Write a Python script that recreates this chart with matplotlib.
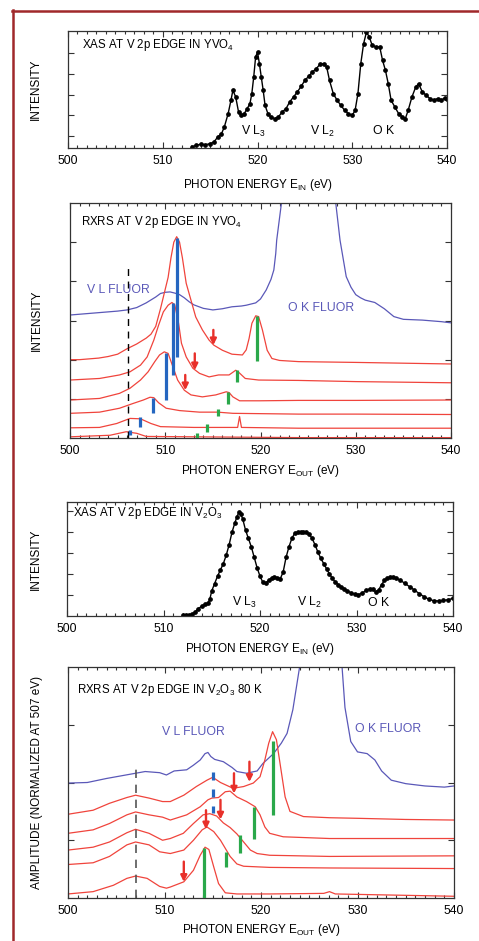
import matplotlib
matplotlib.use("Agg")
import matplotlib.pyplot as plt
from matplotlib.ticker import MultipleLocator
from matplotlib.lines import Line2D

plt.rcParams["font.family"] = ["Liberation Sans", "DejaVu Sans"]
plt.rcParams["mathtext.fontset"] = "custom"
plt.rcParams["mathtext.rm"] = "Liberation Sans"
plt.rcParams["mathtext.it"] = "Liberation Sans:italic"
plt.rcParams["mathtext.default"] = "rm"

# ---------------- data ----------------
# XAS YVO4 (incident energy, intensity)
yvo4_xas_e = [513.1, 513.5, 514.0, 514.5, 515.0, 515.4, 515.8, 516.2, 516.5, 516.9,
              517.2, 517.4, 517.7, 518.0, 518.3, 518.6, 518.9, 519.2, 519.4, 519.6,
              519.8, 520.0, 520.2, 520.4, 520.6, 520.8, 521.1, 521.4, 521.8, 522.2,
              522.6, 523.0, 523.4, 523.8, 524.2, 524.6, 525.0, 525.4, 525.8, 526.2,
              526.6, 527.0, 527.3, 527.6, 528.0, 528.4, 528.8, 529.2, 529.6, 530.0,
              530.3, 530.6, 530.9, 531.2, 531.5, 531.8, 532.1, 532.5, 532.9, 533.2,
              533.5, 533.8, 534.1, 534.5, 534.9, 535.3, 535.6, 535.9, 536.3, 536.7,
              537.0, 537.4, 537.8, 538.2, 538.6, 539.0, 539.4, 539.8, 540.0]
yvo4_xas_i = [0.47, 0.55, 0.60, 0.58, 0.63, 0.71, 0.95, 1.11, 1.44, 2.08,
              2.73, 3.21, 2.89, 2.16, 2.00, 2.08, 2.32, 2.56, 3.05, 3.85,
              4.82, 5.06, 4.50, 3.85, 3.21, 2.48, 2.08, 1.92, 1.84, 1.92,
              2.16, 2.32, 2.65, 2.89, 3.13, 3.40, 3.69, 3.89, 4.10, 4.26,
              4.47, 4.50, 4.34, 3.69, 3.05, 2.73, 2.48, 2.24, 2.08, 2.00,
              2.24, 3.05, 4.50, 5.47, 6.03, 5.79, 5.39, 5.31, 5.31, 4.66,
              4.18, 3.53, 2.73, 2.40, 2.08, 1.92, 1.84, 2.24, 2.89, 3.37,
              3.53, 3.13, 2.97, 2.81, 2.73, 2.81, 2.73, 2.85, 2.81]

# RXRS YVO4: fluorescence (blue) and red spectra, top to bottom
yvo4_fluor_e = [500, 501, 502, 503, 504, 505, 506, 507, 508, 509, 509.5, 510, 510.5,
                511, 511.5, 512, 512.5, 513, 514, 515, 516, 517, 518, 518.5, 519.5,
                520, 520.6, 521.1, 521.4, 521.6, 521.7, 522.2, 523, 525, 527, 527.9,
                528.35, 529, 529.5, 530, 530.5, 531, 532, 533, 533.5, 534, 535, 536,
                537, 538, 539, 540]
yvo4_fluor_i = [3.14, 3.16, 3.18, 3.20, 3.22, 3.24, 3.27, 3.33, 3.45, 3.60, 3.69, 3.72,
                3.73, 3.70, 3.66, 3.58, 3.48, 3.40, 3.31, 3.27, 3.30, 3.35, 3.37, 3.39,
                3.45, 3.55, 3.78, 4.05, 4.29, 4.71, 5.05, 6.0, 7.5, 8.5, 7.5, 6.0,
                5.05, 4.12, 3.85, 3.66, 3.58, 3.52, 3.46, 3.30, 3.20, 3.10, 3.03, 3.02,
                3.01, 2.99, 2.97, 2.94]

yvo4_rxrs_e = [
    [500, 501, 502, 503, 504, 505, 506, 507, 508, 508.5, 509, 509.5, 510, 510.3, 510.6,
     510.9, 511.2, 511.5, 511.8, 512.2, 512.7, 513.2, 513.9, 514.6, 515.1, 516, 517,
     518.1, 518.5, 518.8, 519.1, 519.5, 519.8, 520.2, 520.7, 521.2, 522, 524, 530, 535, 540],
    [500, 503.1, 505.2, 506.3, 507.4, 508.1, 508.8, 509.3, 509.8, 510.3, 510.7, 511.0,
     511.4, 511.7, 512.2, 512.9, 513.6, 514.6, 515.6, 516.7, 517.4, 517.7, 518.4, 519.8,
     524, 530, 540],
    [500, 503.1, 505.2, 506.3, 507.4, 508.2, 508.9, 509.4, 509.9, 510.3, 510.8, 511.3,
     512.0, 512.7, 513.9, 515.3, 516.4, 516.7, 517.1, 517.8, 519.9, 524, 530, 540],
    [500, 503.1, 505.2, 506.6, 507.7, 508.4, 508.8, 509.3, 510.1, 511.5, 513.6, 515.5,
     517.1, 524, 530, 540],
    [500, 503.1, 504.9, 506.3, 507.4, 508.5, 509.5, 513.0, 517.6, 517.8, 518.0, 524, 540],
    [500, 504.2, 505.9, 507.0, 508.0, 524, 540],
]
yvo4_rxrs_i = [
    [2.00, 2.00, 2.02, 2.04, 2.08, 2.14, 2.28, 2.40, 2.55, 2.65, 2.85, 3.30, 3.80, 4.10, 4.60,
     5.00, 5.14, 5.00, 4.60, 3.95, 3.52, 3.09, 2.76, 2.50, 2.37, 2.24, 2.14,
     2.12, 2.25, 2.54, 2.93, 3.12, 3.10, 2.76, 2.24, 2.03, 1.98, 1.95, 1.93, 1.91, 1.89],
    [1.48, 1.52, 1.61, 1.69, 1.86, 2.07, 2.50, 2.88, 3.22, 3.39, 3.46, 3.40,
     2.93, 2.42, 2.07, 1.78, 1.65, 1.56, 1.61, 1.61, 1.73, 1.68, 1.52, 1.48,
     1.47, 1.44, 1.41],
    [0.97, 1.01, 1.14, 1.27, 1.48, 1.69, 1.95, 2.12, 2.20, 2.16, 1.82, 1.48,
     1.22, 1.10, 1.05, 1.10, 1.18, 1.16, 1.05, 0.95, 0.95, 0.96, 0.96, 0.97],
    [0.63, 0.66, 0.76, 0.88, 0.97, 1.04, 1.03, 0.90, 0.76, 0.70, 0.66, 0.66,
     0.63, 0.61, 0.61, 0.60],
    [0.26, 0.27, 0.37, 0.50, 0.49, 0.37, 0.29, 0.27, 0.27, 0.55, 0.27, 0.25, 0.25],
    [0.03, 0.07, 0.16, 0.12, 0.04, 0.01, 0.01],
]

yvo4_blue_e = [511.27, 510.78, 510.08, 508.68, 507.35, 506.3]
yvo4_blue_top = [5.10, 3.44, 2.16, 1.01, 0.54, 0.20]
yvo4_blue_bot = [2.07, 1.61, 0.97, 0.63, 0.29, 0.08]
yvo4_green_e = [519.6, 517.5, 516.6, 515.57, 514.35, 513.3]
yvo4_green_top = [3.11, 1.73, 1.18, 0.73, 0.36, 0.12]
yvo4_green_bot = [1.97, 1.44, 0.88, 0.56, 0.16, -0.05]
yvo4_arrow_e = [515.05, 513.1, 512.1]
yvo4_arrow_top = [2.76, 2.16, 1.61]
yvo4_arrow_tip = [2.37, 1.73, 1.22]
yvo4_dash_e = 506.13
yvo4_dash_top = 4.34

# XAS V2O3
v2o3_xas_e = [512.0, 512.3, 512.6, 513.0, 513.3, 513.6, 514.0, 514.3, 514.6, 514.8,
              515.0, 515.3, 515.6, 515.9, 516.2, 516.5, 516.8, 517.1, 517.4, 517.6,
              517.8, 518.0, 518.2, 518.5, 518.8, 519.1, 519.4, 519.7, 520.0, 520.3,
              520.6, 520.9, 521.2, 521.5, 521.8, 522.1, 522.4, 522.7, 523.0, 523.3,
              523.6, 523.9, 524.2, 524.5, 524.8, 525.1, 525.4, 525.7, 526.0, 526.3,
              526.6, 526.9, 527.2, 527.5, 527.8, 528.1, 528.4, 528.7, 529.0, 529.4,
              529.8, 530.2, 530.6, 531.0, 531.4, 531.7, 532.0, 532.3, 532.6, 532.9,
              533.2, 533.5, 533.8, 534.1, 534.5, 535.0, 535.5, 536.0, 536.5, 537.0,
              537.5, 538.0, 538.5, 539.0, 539.5, 540.0]
v2o3_xas_i = [0.05, 0.03, 0.05, 0.10, 0.20, 0.35, 0.48, 0.55, 0.60, 0.80,
              1.20, 1.55, 1.90, 2.20, 2.50, 2.90, 3.40, 4.00, 4.45, 4.72,
              4.94, 4.85, 4.65, 4.10, 3.70, 3.30, 2.80, 2.30, 1.90, 1.60,
              1.58, 1.70, 1.82, 1.87, 1.82, 1.78, 2.10, 2.80, 3.30, 3.70,
              3.95, 4.00, 4.00, 4.00, 4.00, 3.90, 3.70, 3.40, 3.05, 2.75,
              2.50, 2.25, 2.00, 1.80, 1.62, 1.50, 1.38, 1.30, 1.20, 1.12,
              1.05, 1.02, 1.10, 1.22, 1.30, 1.27, 1.15, 1.25, 1.50, 1.70,
              1.80, 1.85, 1.85, 1.80, 1.72, 1.56, 1.40, 1.24, 1.07, 0.92,
              0.80, 0.73, 0.72, 0.74, 0.78, 0.84]

# RXRS V2O3 80 K
v2o3_fluor_e = [500, 502, 504, 506, 508, 509.5, 510.2, 511, 512.3, 513, 513.7, 514.2,
                514.5, 514.8, 515.2, 516.1, 517, 517.5, 518.5, 519.6, 520.2, 521.3,
                522.1, 522.7, 523.3, 524.0, 525, 526.5, 527.5, 528.4, 528.7, 529.3,
                530, 531, 531.8, 532.5, 533.5, 535, 537, 539, 540]
v2o3_fluor_i = [1.99, 2.00, 2.07, 2.13, 2.19, 2.17, 2.13, 2.20, 2.22, 2.30, 2.39, 2.50,
                2.52, 2.45, 2.40, 2.36, 2.26, 2.19, 2.16, 2.20, 2.33, 2.50,
                2.68, 2.85, 3.26, 4.00, 5.50, 6.00, 5.00, 4.00, 3.30, 2.71,
                2.53, 2.50, 2.39, 2.20, 2.04, 1.98, 1.94, 1.92, 1.94]

v2o3_rxrs_e = [
    [500, 502.6, 504.3, 506.1, 507, 508.4, 509.8, 510.6, 512, 513.3, 514.4, 515, 515.8,
     517.1, 518.2, 519.2, 519.9, 520.4, 520.8, 521.2, 521.6, 522.0, 522.5, 523, 524.4,
     527.1, 530, 535, 540],
    [500, 502.6, 504.3, 506.1, 507, 508.4, 509.8, 510.6, 512.3, 513.7, 514.5, 514.9,
     515.6, 516.3, 516.8, 517.5, 518.5, 519.4, 519.9, 520.4, 520.9, 522.3, 527.1, 540],
    [500, 502.6, 504.3, 506.1, 507, 508.4, 509.8, 510.6, 511.95, 513, 514, 514.7, 515.4,
     516.1, 516.8, 517.5, 518.2, 518.9, 519.6, 520.9, 527.1, 540],
    [500, 502.6, 504.3, 506.1, 507, 508.4, 509.5, 510.6, 512, 513, 513.9, 514.4, 515.1,
     515.8, 516.3, 516.8, 517.5, 518.2, 520.9, 527.1, 540],
    [500, 502.6, 504.7, 506.1, 507, 508.2, 509.5, 510.2, 510.6, 512, 513, 513.7, 514.2,
     514.6, 515.1, 515.6, 516.3, 517.5, 520.9, 526.5, 527.1, 527.7, 540],
]
v2o3_rxrs_i = [
    [1.45, 1.52, 1.64, 1.74, 1.78, 1.73, 1.67, 1.67, 1.78, 1.93, 2.04, 2.09, 2.00,
     1.90, 1.93, 1.99, 2.10, 2.39, 2.68, 2.88, 2.74, 2.30, 1.75, 1.50, 1.41,
     1.39, 1.38, 1.36, 1.35],
    [1.12, 1.18, 1.29, 1.44, 1.49, 1.44, 1.40, 1.35, 1.44, 1.58, 1.70, 1.73,
     1.74, 1.84, 1.85, 1.75, 1.67, 1.58, 1.44, 1.23, 1.12, 1.06, 1.03, 1.03],
    [0.83, 0.88, 0.97, 1.13, 1.19, 1.12, 1.00, 1.03, 1.12, 1.29, 1.44, 1.46, 1.42,
     1.30, 1.22, 1.11, 0.97, 0.83, 0.77, 0.74, 0.72, 0.73],
    [0.58, 0.61, 0.72, 0.92, 0.97, 0.92, 0.80, 0.77, 0.83, 1.00, 1.18, 1.23, 1.15,
     1.00, 0.86, 0.72, 0.59, 0.55, 0.53, 0.52, 0.51],
    [0.07, 0.11, 0.22, 0.34, 0.38, 0.34, 0.20, 0.17, 0.19, 0.28, 0.48, 0.74, 0.88,
     0.84, 0.54, 0.25, 0.09, 0.07, 0.07, 0.08, 0.11, 0.07, 0.03],
]

v2o3_blue_e = [515.0, 515.0, 515.0]
v2o3_blue_top = [2.18, 1.89, 1.60]
v2o3_blue_bot = [2.04, 1.75, 1.47]
v2o3_green_e = [521.2, 519.3, 517.8, 516.4, 514.1]
v2o3_green_top = [2.71, 1.58, 1.09, 0.80, 0.86]
v2o3_green_bot = [1.44, 1.03, 0.78, 0.54, 0.0]
v2o3_arrow_e = [518.8, 517.2, 515.8, 514.3, 512.0]
v2o3_arrow_top = [2.36, 2.16, 1.70, 1.52, 0.63]
v2o3_arrow_tip = [2.01, 1.81, 1.36, 1.19, 0.28]
v2o3_dash_e = 507.0
v2o3_dash_top = 2.27

# ---------------- style ----------------
RED = "#f0443c"
FLUOR = "#5a58b8"
BLUE = "#2566c0"
GREEN = "#2aa84a"
ARROW = "#e8302a"
FRAME = "#a0282a"
FS_TICK = 8.7
FS_LAB = 8.5
FS_TITLE = 8.3
FS_NOTE = 8.8

W, H = 479, 941
fig = plt.figure(figsize=(W / 100, H / 100), dpi=100)


def add_axes(left, right, top, bottom):
    return fig.add_axes([left / W, 1 - bottom / H, (right - left) / W, (bottom - top) / H])


def style(ax, ylim, yticks, xlabel, ylabel, xlab_y, ylab_x):
    ax.set_xlim(500, 540)
    ax.set_ylim(*ylim)
    ax.xaxis.set_major_locator(MultipleLocator(10))
    ax.xaxis.set_minor_locator(MultipleLocator(1))
    ax.set_yticks(yticks)
    ax.set_yticklabels([])
    ax.tick_params(which="both", direction="in", top=True, right=True,
                   labelsize=FS_TICK, pad=5, width=0.8, color="#333333")
    ax.tick_params(which="major", length=4)
    ax.tick_params(which="minor", length=2.5)
    for s in ax.spines.values():
        s.set_linewidth(0.9)
        s.set_color("#333333")
    ax.set_xlabel(xlabel, fontsize=FS_LAB)
    ax.set_ylabel(ylabel, fontsize=FS_LAB)
    ax.xaxis.set_label_coords(0.5, xlab_y)
    ax.yaxis.set_label_coords(ylab_x, 0.5)


def ticks_marks(ax, xs, tops, bots, color):
    for x, t, b in zip(xs, tops, bots):
        ax.plot([x, x], [b, t], color=color, lw=2.3, solid_capstyle="butt", zorder=4)


def arrows(ax, xs, tops, tips):
    for x, t, p in zip(xs, tops, tips):
        ax.annotate("", xy=(x, p), xytext=(x, t),
                    arrowprops=dict(arrowstyle="-|>", color=ARROW, lw=1.7,
                                    mutation_scale=9, shrinkA=0, shrinkB=0),
                    zorder=5)


# ---- panel 1: XAS YVO4
ax1 = add_axes(68, 447, 31, 148)
ax1.plot(yvo4_xas_e, yvo4_xas_i, color="black", lw=1.0, marker="o", ms=2.4)
style(ax1, (0.42, 6.08), [1, 2, 3, 4, 5], r"PHOTON ENERGY E$_{\mathrm{IN}}$ (eV)",
      "INTENSITY", -0.25, -0.07)
ax1.text(0.036, 0.88, r"XAS AT V 2p EDGE IN YVO$_4$", transform=ax1.transAxes,
         fontsize=FS_TITLE, va="center")
ax1.text(518.3, 1.24, r"V L$_3$", fontsize=FS_NOTE, va="center")
ax1.text(525.5, 1.24, r"V L$_2$", fontsize=FS_NOTE, va="center")
ax1.text(532.2, 1.24, "O K", fontsize=FS_NOTE, va="center")

# ---- panel 2: RXRS YVO4
ax2 = add_axes(70, 451, 203, 438)
ax2.plot(yvo4_fluor_e, yvo4_fluor_i, color=FLUOR, lw=0.9)
for e, i in zip(yvo4_rxrs_e, yvo4_rxrs_i):
    ax2.plot(e, i, color=RED, lw=0.9)
ax2.plot([yvo4_dash_e, yvo4_dash_e], [0, yvo4_dash_top], color="black", lw=1.0,
         ls=(0, (5, 4)))
ticks_marks(ax2, yvo4_blue_e, yvo4_blue_top, yvo4_blue_bot, BLUE)
ticks_marks(ax2, yvo4_green_e, yvo4_green_top, yvo4_green_bot, GREEN)
arrows(ax2, yvo4_arrow_e, yvo4_arrow_top, yvo4_arrow_tip)
style(ax2, (0, 6), [1, 2, 3, 4, 5], r"PHOTON ENERGY E$_{\mathrm{OUT}}$ (eV)",
      "INTENSITY", -0.105, -0.07)
ax2.text(0.028, 0.92, r"RXRS AT V 2p EDGE IN YVO$_4$", transform=ax2.transAxes,
         fontsize=FS_TITLE, va="center")
ax2.text(501.8, 3.78, "V L FLUOR", color=FLUOR, fontsize=FS_NOTE, va="center")
ax2.text(522.9, 3.32, "O K FLUOR", color=FLUOR, fontsize=FS_NOTE, va="center")

# ---- panel 3: XAS V2O3
ax3 = add_axes(67, 453, 502, 616)
ax3.plot(v2o3_xas_e, v2o3_xas_i, color="black", lw=1.0, marker="o", ms=2.4)
style(ax3, (0, 5.44), [1, 2, 3, 4, 5], r"PHOTON ENERGY E$_{\mathrm{IN}}$ (eV)",
      "INTENSITY", -0.22, -0.065)
ax3.text(0.016, 0.90, r"XAS AT V 2p EDGE IN V$_2$O$_3$", transform=ax3.transAxes,
         fontsize=FS_TITLE, va="center")
ax3.text(517.1, 0.63, r"V L$_3$", fontsize=FS_NOTE, va="center")
ax3.text(523.8, 0.63, r"V L$_2$", fontsize=FS_NOTE, va="center")
ax3.text(531.2, 0.63, "O K", fontsize=FS_NOTE, va="center")

# ---- panel 4: RXRS V2O3
ax4 = add_axes(68, 454, 667, 898)
ax4.plot(v2o3_fluor_e, v2o3_fluor_i, color=FLUOR, lw=0.9)
for e, i in zip(v2o3_rxrs_e, v2o3_rxrs_i):
    ax4.plot(e, i, color=RED, lw=0.9)
ax4.plot([v2o3_dash_e, v2o3_dash_e], [0, v2o3_dash_top], color="#555555", lw=1.2,
         ls=(0, (5, 4)))
ticks_marks(ax4, v2o3_blue_e, v2o3_blue_top, v2o3_blue_bot, BLUE)
ticks_marks(ax4, v2o3_green_e, v2o3_green_top, v2o3_green_bot, GREEN)
arrows(ax4, v2o3_arrow_e, v2o3_arrow_top, v2o3_arrow_tip)
style(ax4, (0, 4), [1, 2, 3], r"PHOTON ENERGY E$_{\mathrm{OUT}}$ (eV)",
      "AMPLITUDE (NORMALIZED AT 507 eV)", -0.104, -0.065)
ax4.text(0.0225, 0.90, r"RXRS AT V 2p EDGE IN V$_2$O$_3$ 80 K", transform=ax4.transAxes,
         fontsize=FS_TITLE, va="center")
ax4.text(509.7, 2.88, "V L FLUOR", color=FLUOR, fontsize=FS_NOTE, va="center")
ax4.text(529.7, 2.92, "O K FLUOR", color=FLUOR, fontsize=FS_NOTE, va="center")

# dark red frame on the left and top
fig.add_artist(Line2D([13 / W, 13 / W], [0, 1 - 10 / H], color=FRAME, lw=1.8,
                      transform=fig.transFigure))
fig.add_artist(Line2D([12.3 / W, 1], [1 - 11 / H, 1 - 11 / H], color=FRAME, lw=1.8,
                      transform=fig.transFigure))

fig.savefig("out.png", dpi=100)
